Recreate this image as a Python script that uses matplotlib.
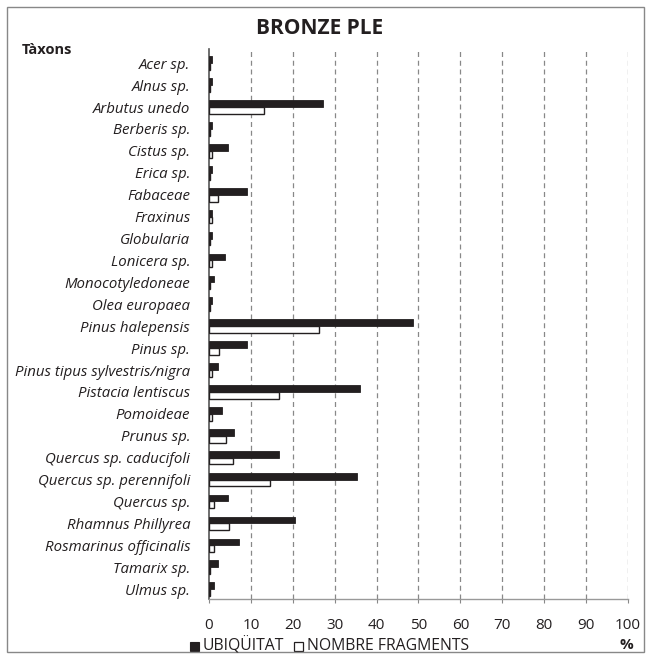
import matplotlib
matplotlib.use("Agg")
import matplotlib.pyplot as plt
import numpy as np
from matplotlib.patches import Rectangle

plt.rcParams['font.family'] = ['Open Sans', 'DejaVu Sans']

taxa = ["Acer sp.", "Alnus sp.", "Arbutus unedo", "Berberis sp.", "Cistus sp.",
        "Erica sp.", "Fabaceae", "Fraxinus", "Globularia", "Lonicera sp.",
        "Monocotyledoneae", "Olea europaea", "Pinus halepensis", "Pinus sp.",
        "Pinus tipus sylvestris/nigra", "Pistacia lentiscus", "Pomoideae",
        "Prunus sp.", "Quercus sp. caducifoli", "Quercus sp. perennifoli",
        "Quercus sp.", "Rhamnus Phillyrea", "Rosmarinus officinalis",
        "Tamarix sp.", "Ulmus sp."]
ubiquitat = [0.7, 0.7, 27.3, 0.6, 4.6, 0.6, 9.1, 0.7, 0.6, 3.8,
             1.3, 0.6, 48.8, 9.1, 2.1, 36.1, 3.2, 6.0, 16.6, 35.4,
             4.6, 20.6, 7.1, 2.1, 1.3]
fragments = [0.2, 0.2, 13.1, 0.2, 0.8, 0.2, 2.2, 0.8, 0.2, 0.8,
             0.2, 0.2, 26.3, 2.5, 0.8, 16.6, 0.8, 4.0, 5.7, 14.6,
             1.1, 4.7, 1.1, 0.3, 0.3]
xticks = list(range(0, 101, 10))

fig = plt.figure(figsize=(6.49, 6.59), dpi=100)
W, H = 649, 659
ax = fig.add_axes([209/W, 1-599/H, (628-209)/W, (599-49)/H])

n = len(taxa)
y = np.arange(n)
h = 0.31
ax.barh(y - h/2, ubiquitat, height=h, color='#231f20', edgecolor='#231f20', linewidth=0.6, zorder=3)
ax.barh(y + h/2, fragments, height=h, color='white', edgecolor='#231f20', linewidth=1.0, zorder=3)

ax.set_ylim(n - 0.55, -0.65)
ax.set_xlim(0, 100)
ax.set_yticks(y)
ax.set_yticklabels(taxa, fontstyle='italic', fontsize=10.8, color='#231f20')
ax.set_xticks(xticks)
ax.set_xticklabels([str(t) for t in xticks], fontsize=11, color='#231f20')
ax.tick_params(axis='y', length=0, pad=13.5)
ax.tick_params(axis='x', length=3, color='#888888', direction='out', pad=10.5)
for t in xticks[1:]:
    ax.axvline(t, color='#888888', linestyle=(0, (4, 3)), linewidth=0.9, zorder=1)
for s in ['top', 'right']:
    ax.spines[s].set_visible(False)
ax.spines['left'].set_color('#555555')
ax.spines['left'].set_linewidth(1.2)
ax.spines['bottom'].set_color('#999999')
ax.spines['bottom'].set_linewidth(1.0)

fig.text(320/W, 1-29/H, "BRONZE PLE", ha='center', va='center', fontsize=15,
         fontweight='bold', color='#231f20')
fig.text(22/W, 1-50/H, "Tàxons", ha='left', va='center', fontsize=10.5,
         fontweight='bold', color='#231f20')
fig.text(626/W, 1-645/H, "%", ha='center', va='center', fontsize=11,
         fontweight='bold', color='#231f20')

# legend
fig.patches.append(Rectangle((190/W, 1-651/H), 9/W, 9/H, transform=fig.transFigure,
                             facecolor='#231f20', edgecolor='#231f20', linewidth=0.8))
fig.text(203/W, 1-646/H, "UBIQÜITAT", ha='left', va='center', fontsize=11.3, color='#231f20')
fig.patches.append(Rectangle((294/W, 1-651/H), 9/W, 9/H, transform=fig.transFigure,
                             facecolor='white', edgecolor='#231f20', linewidth=0.9))
fig.text(307/W, 1-646/H, "NOMBRE FRAGMENTS", ha='left', va='center', fontsize=11.3, color='#231f20')

# outer border
fig.patches.append(Rectangle((7/W, 1-652/H), 637/W, 645/H, transform=fig.transFigure,
                             facecolor='none', edgecolor='#888888', linewidth=1.0))

fig.savefig("out.png", dpi=100)
